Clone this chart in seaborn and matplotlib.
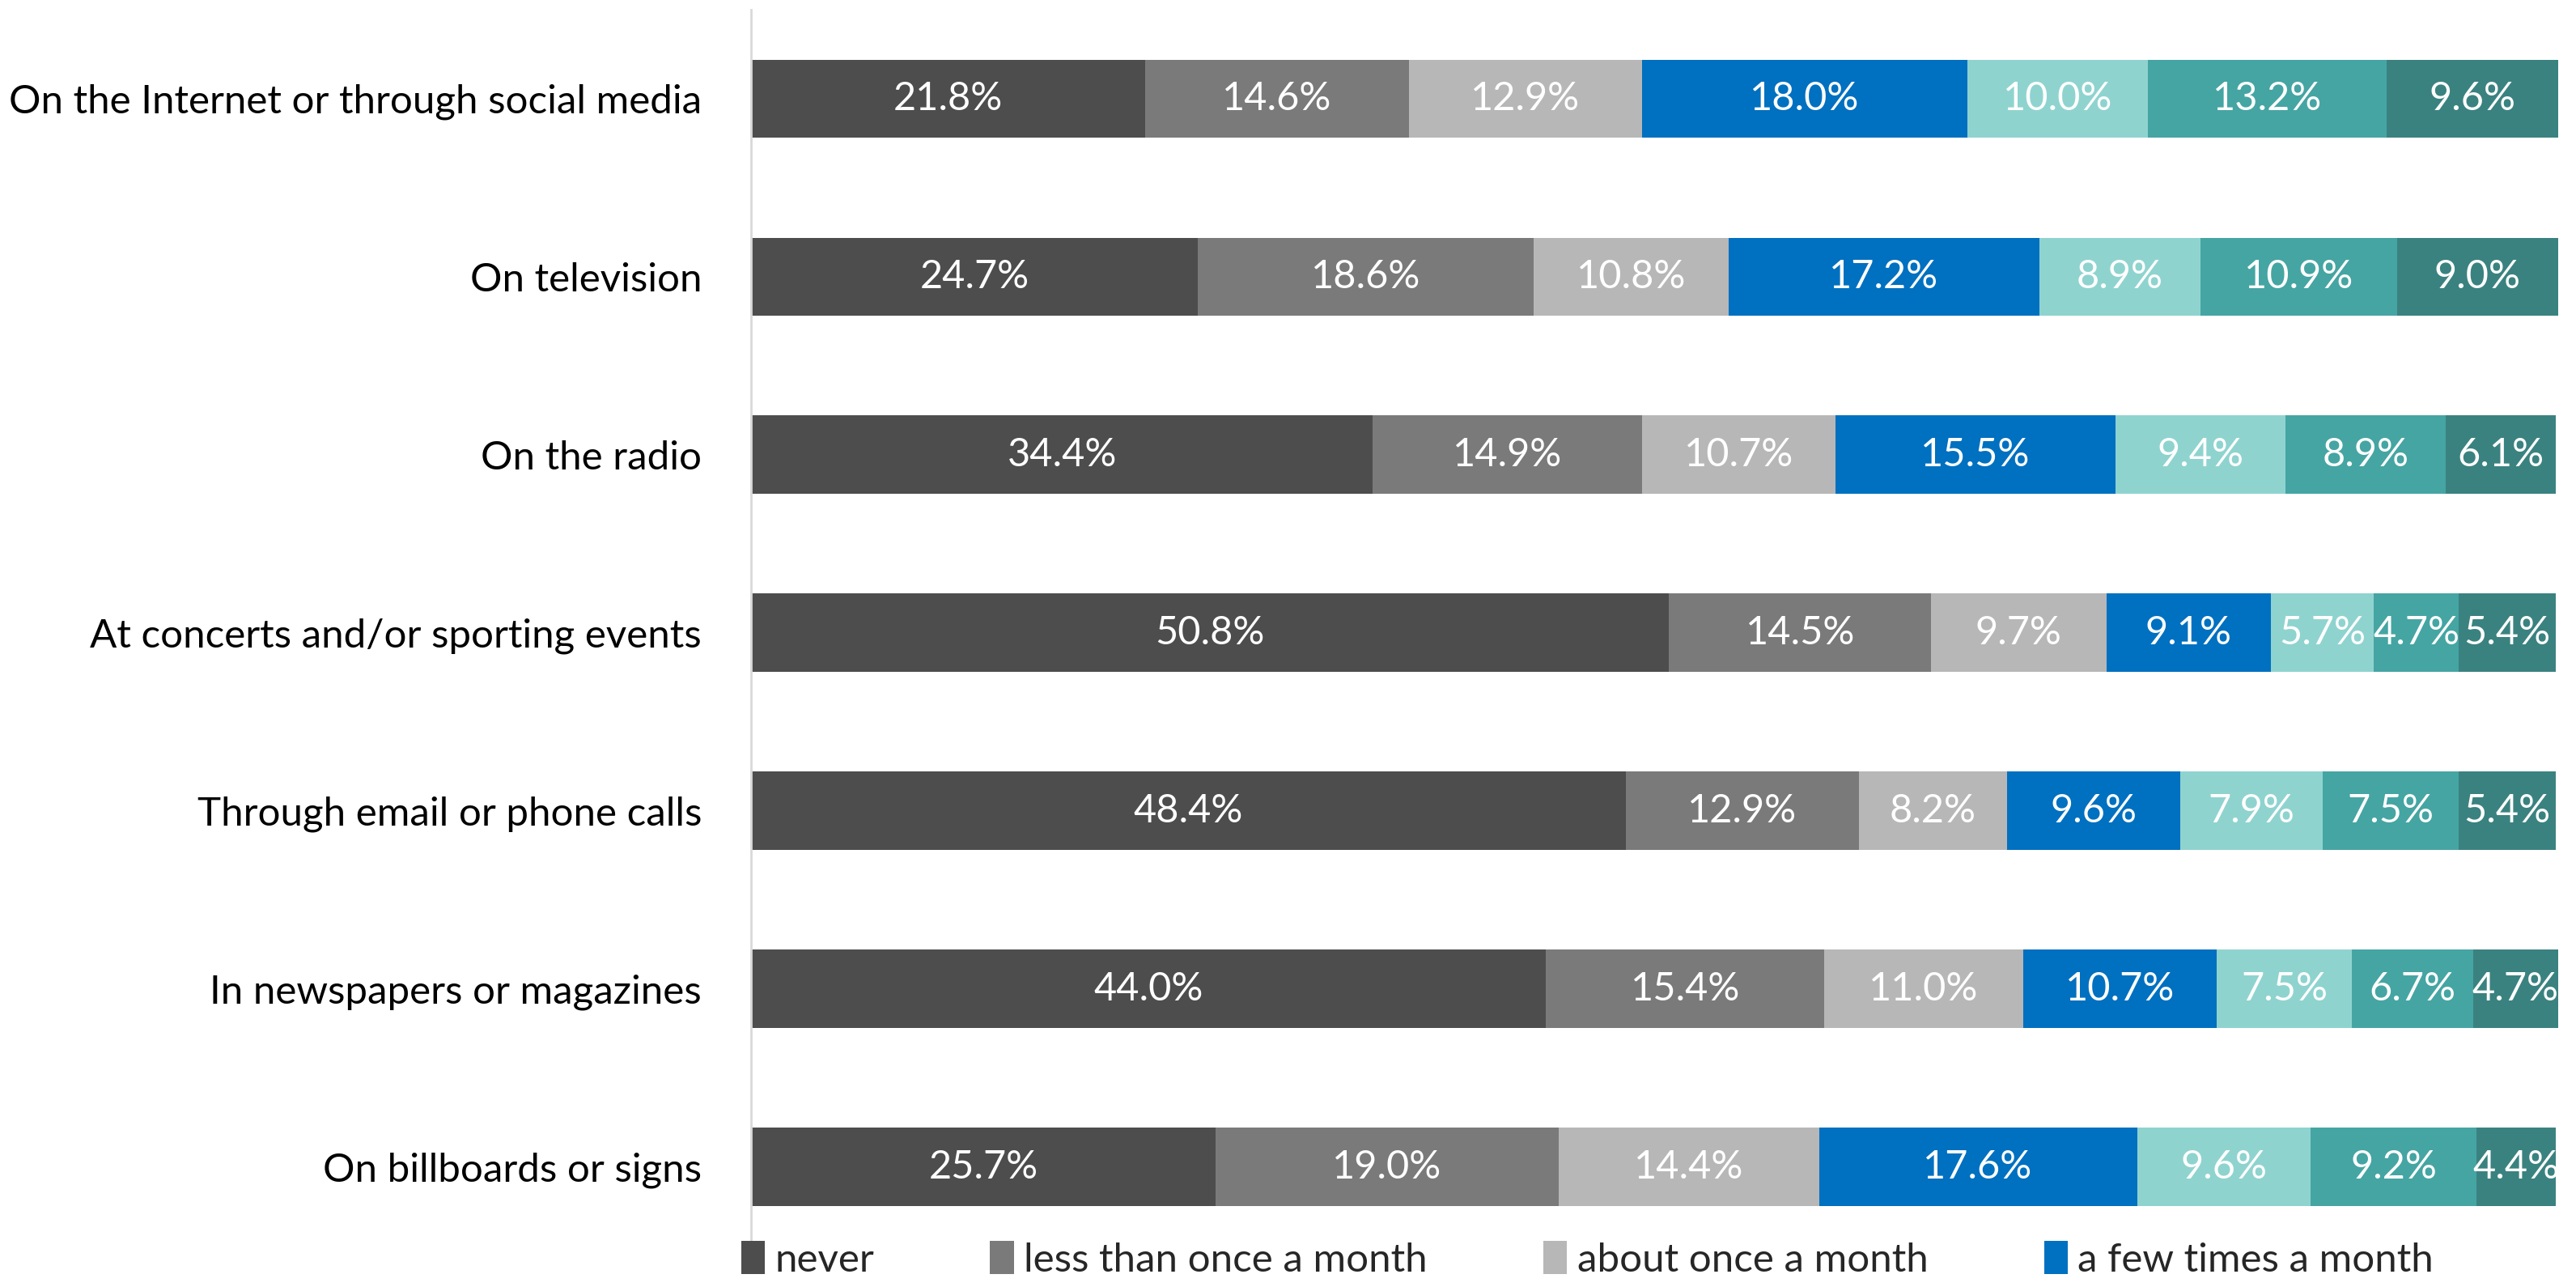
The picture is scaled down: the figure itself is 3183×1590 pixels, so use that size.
"""100% stacked bar chart: how often respondents encounter messages, by channel."""

import matplotlib

matplotlib.use("Agg")
import matplotlib.pyplot as plt
import numpy as np
import pandas as pd
import seaborn as sns

channels = [
    "On the Internet or through social media",
    "On television",
    "On the radio",
    "At concerts and/or sporting events",
    "Through email or phone calls",
    "In newspapers or magazines",
    "On billboards or signs",
]
frequencies = [
    "never",
    "less than once a month",
    "about once a month",
    "a few times a month",
    "about once a week",
    "a few times a week",
    "daily",
]
never = [21.8, 24.7, 34.4, 50.8, 48.4, 44.0, 25.7]
less_than_monthly = [14.6, 18.6, 14.9, 14.5, 12.9, 15.4, 19.0]
monthly = [12.9, 10.8, 10.7, 9.7, 8.2, 11.0, 14.4]
few_monthly = [18.0, 17.2, 15.5, 9.1, 9.6, 10.7, 17.6]
weekly = [10.0, 8.9, 9.4, 5.7, 7.9, 7.5, 9.6]
few_weekly = [13.2, 10.9, 8.9, 4.7, 7.5, 6.7, 9.2]
daily = [9.6, 9.0, 6.1, 5.4, 5.4, 4.7, 4.4]

colors = ["#4D4D4D", "#7A7A7A", "#B7B7B7", "#0070C0", "#8FD3CF", "#45A5A3", "#3A8280"]


def main() -> None:
    sns.set_theme(style="white")
    plt.rcParams["font.family"] = ["Lato", "DejaVu Sans"]

    series = [never, less_than_monthly, monthly, few_monthly, weekly, few_weekly, daily]
    fig = plt.figure(figsize=(31.83, 15.90), dpi=100)
    ax = fig.add_axes([0.2916, 0.024, 0.7014, 0.9685])

    left = np.zeros(len(channels))
    for label, values, color in zip(frequencies, series, colors):
        df = pd.DataFrame({"channel": channels, "pct": values})
        sns.barplot(
            data=df, x="pct", y="channel", order=channels, orient="h",
            color=color, width=0.44, left=left, label=label,
            saturation=1, linewidth=0, ax=ax,
        )
        container = ax.containers[-1]
        ax.bar_label(
            container, labels=[f"{v:.1f}%" for v in values], label_type="center",
            color="white", fontsize=35,
        )
        left = left + np.array(values)

    if ax.get_legend() is not None:
        ax.get_legend().remove()

    ax.set_xlim(0, 100)
    ax.set_ylim(6.5, -0.5)
    ax.set_xlabel("")
    ax.set_ylabel("")
    ax.set_xticks([])
    ax.tick_params(axis="y", length=0, pad=44, labelsize=35.5, labelcolor="black")
    for side in ["top", "right", "bottom"]:
        ax.spines[side].set_visible(False)
    ax.spines["left"].set_color("#D9D9D9")
    ax.spines["left"].set_linewidth(2)

    # single row like the source; the last entries run past the right edge
    handles, labels = ax.get_legend_handles_labels()
    fig.legend(
        handles[:4], labels[:4],
        ncol=4, loc="upper left", bbox_to_anchor=(0.2815, 0.048),
        frameon=False, fontsize=35.5, handlelength=0.6, handleheight=0.9,
        handletextpad=0.25, columnspacing=2.9, borderaxespad=0,
    )

    fig.savefig("out.png", dpi=100)
    plt.close(fig)


if __name__ == "__main__":
    main()
